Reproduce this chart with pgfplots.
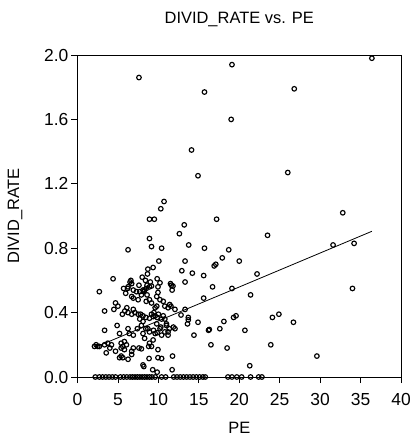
\documentclass[border=0pt]{standalone}
\usepackage{fontspec}
\setmainfont{Liberation Sans}
\usepackage{pgfplots}
\pgfplotsset{compat=1.18}
\begin{document}
\begin{tikzpicture}
\begin{axis}[
  scale only axis, width=323.5bp, height=322bp,
  xmin=0, xmax=40, ymin=0, ymax=2,
  xtick={0,5,...,40}, ytick={0,0.4,0.8,1.2,1.6,2.0},
  yticklabel style={/pgf/number format/fixed,/pgf/number format/fixed zerofill,/pgf/number format/precision=1},
  /pgf/number format/assume math mode=true,
  tick align=outside, xtick pos=bottom, ytick pos=left,
  major tick length=6bp,
  tick style={black, line width=0.8bp},
  axis line style={line width=0.9bp},
  tick label style={font=\fontsize{17.5}{20}\selectfont, inner sep=0pt},
  xticklabel shift=10bp, yticklabel shift=3bp,
  title={DIVID\_RATE vs. PE},
  title style={at={(axis description cs:0.5,1.0792)}, anchor=base, font=\fontsize{16.5}{19}\selectfont, inner sep=0pt},
  xlabel={PE},
  xlabel style={at={(axis description cs:0.5,-0.1757)}, anchor=base, font=\fontsize{16.5}{19}\selectfont, inner sep=0pt},
  ylabel={DIVID\_RATE},
  ylabel style={at={(axis description cs:-0.1808,0.5)}, anchor=base, font=\fontsize{16.5}{19}\selectfont, inner sep=0pt},
  clip=false,
]
\addplot[only marks, mark=o, mark size=2.3bp, mark options={line width=1.15bp, black}] table {
x y
7.6 1.86
19.1 1.94
15.7 1.77
19.0 1.60
14.1 1.41
14.9 1.25
10.7 1.09
10.3 1.045
8.9 0.98
9.5 0.98
13.2 0.945
17.2 0.98
36.4 1.98
26.8 1.79
26.0 1.27
32.8 1.02
23.5 0.88
31.6 0.82
34.2 0.83
20.0 0.72
22.2 0.64
19.1 0.55
21.4 0.51
34.0 0.55
19.3 0.37
19.6 0.38
24.1 0.37
24.9 0.39
26.7 0.34
20.7 0.29
23.9 0.20
29.6 0.13
21.3 0.07
15.7 0.80
18.7 0.79
17.9 0.74
17.1 0.70
16.9 0.69
15.6 0.63
16.7 0.56
15.6 0.49
14.9 0.34
14.4 0.26
16.3 0.295
17.6 0.30
18.1 0.345
16.5 0.20
18.5 0.18
12.6 0.89
8.9 0.86
13.75 0.82
9.15 0.81
10.4 0.80
10.06 0.72
13.3 0.72
9.35 0.68
8.7 0.67
8.65 0.64
12.9 0.66
14.2 0.645
9.85 0.61
10.2 0.585
11.5 0.58
13.3 0.59
6.25 0.79
4.4 0.61
6.5 0.59
6.6 0.60
8.9 0.56
8.3 0.54
8.2 0.53
11.6 0.57
11.7 0.54
2.7 0.53
6.2 0.55
7.7 0.53
7.9 0.51
6.9 0.49
7.5 0.48
8.6 0.51
8.9 0.48
9.15 0.46
8.5 0.47
10.2 0.48
9.8 0.44
9.6 0.43
11.4 0.45
11.2 0.43
11.55 0.44
12.05 0.42
4.7 0.46
5.0 0.44
4.5 0.42
3.35 0.41
5.85 0.41
6.1 0.43
6.25 0.40
5.55 0.39
6.9 0.42
7.1 0.40
6.7 0.39
7.5 0.39
7.8 0.39
8.1 0.38
8.45 0.37
7.7 0.36
9.15 0.39
9.6 0.38
9.85 0.37
9.45 0.40
10.0 0.39
10.6 0.38
10.4 0.36
10.8 0.36
11.0 0.32
11.35 0.30
11.85 0.31
12.05 0.30
13.7 0.355
13.6 0.33
16.2 0.29
3.35 0.29
4.9 0.32
5.2 0.27
6.25 0.30
6.4 0.27
6.9 0.26
7.4 0.30
7.9 0.32
8.1 0.27
8.45 0.30
8.9 0.28
9.4 0.29
9.85 0.275
10.2 0.30
10.8 0.28
11.2 0.26
2.3 0.20
2.5 0.19
2.1 0.19
4.2 0.20
4.0 0.18
5.4 0.21
5.6 0.19
5.8 0.22
6.05 0.20
3.55 0.15
4.7 0.16
5.4 0.18
5.8 0.17
6.9 0.18
6.7 0.16
7.6 0.18
8.9 0.21
9.15 0.19
8.8 0.19
9.35 0.23
9.95 0.17
5.4 0.13
5.2 0.12
5.6 0.12
6.25 0.11
6.7 0.14
8.85 0.115
9.95 0.12
10.4 0.115
11.75 0.13
8.2 0.065
9.3 0.045
9.85 0.03
11.7 0.045
5.7 0.55
5.96 0.52
6.9 0.54
7.3 0.53
6.7 0.50
9.8 0.50
9.95 0.525
10.6 0.47
8.0 0.62
8.4 0.60
7.6 0.57
9.0 0.59
8.6 0.57
8.1 0.54
8.5 0.55
9.15 0.565
9.95 0.56
11.8 0.565
10.8 0.44
13.3 0.42
12.8 0.385
13.7 0.37
8.9 0.365
9.35 0.375
8.1 0.345
9.8 0.33
10.3 0.31
11.0 0.33
8.7 0.30
9.6 0.27
10.4 0.26
11.2 0.28
8.3 0.24
7.9 0.175
3.75 0.21
3.35 0.20
2.7 0.19
8.1 0.075
6.25 0.56
6.7 0.58
2.2 0
2.7 0
3.1 0
3.5 0
3.9 0
4.3 0
4.7 0
5.3 0
5.7 0
6.1 0
6.5 0
6.8 0
7.1 0
7.4 0
7.7 0
8.0 0
8.3 0
8.6 0
8.9 0
9.2 0
9.6 0
10.4 0
10.9 0
11.9 0
12.3 0
12.7 0
13.1 0
13.5 0
13.9 0
14.3 0
14.7 0
15.1 0
15.5 0
15.8 0
18.6 0
19.1 0
19.7 0
20.3 0
21.4 0
22.4 0
22.8 0
};
\addplot[black, line width=0.8bp, no marks] coordinates {(2.2,0.185) (19.1,0.54) (36.4,0.905)};
\end{axis}
\pgfresetboundingbox
\path (current axis.south west) ++(-77.5bp,-60bp) rectangle ++(412bp,437bp);
\end{tikzpicture}
\end{document}
